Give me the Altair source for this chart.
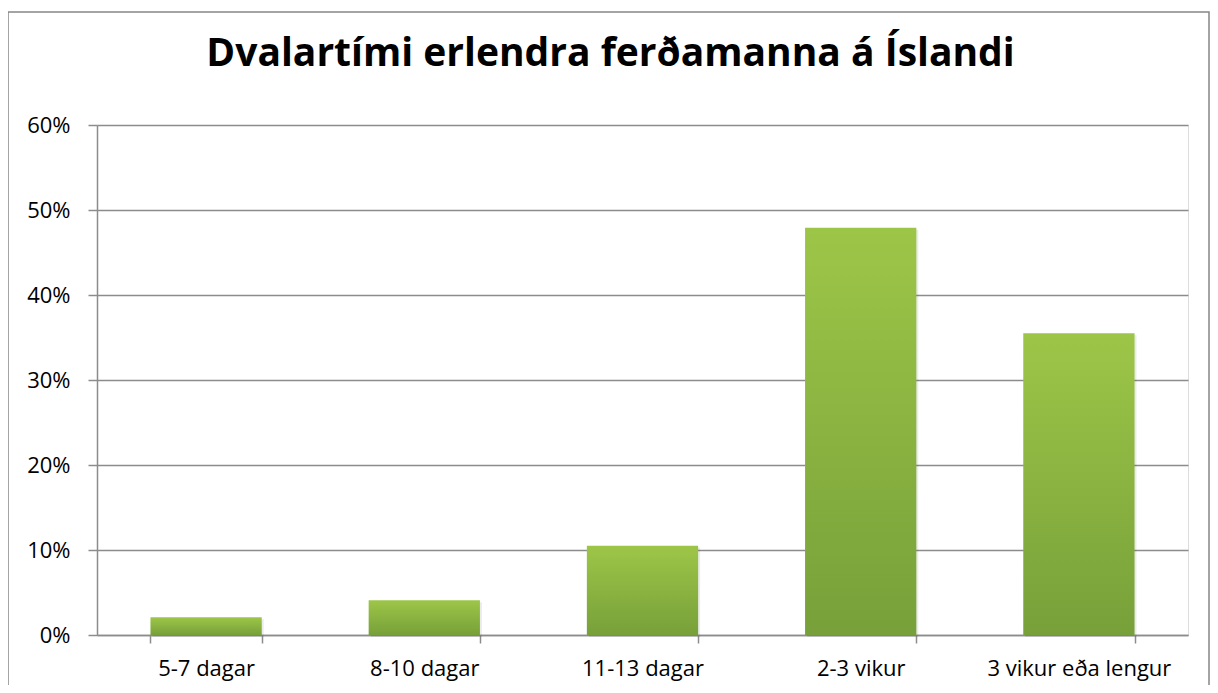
import altair as alt
import pandas as pd

categories = ["5-7 dagar", "8-10 dagar", "11-13 dagar", "2-3 vikur", "3 vikur eða lengur"]
values = [0.021, 0.041, 0.105, 0.479, 0.355]
y_ticks = [0, 0.1, 0.2, 0.3, 0.4, 0.5, 0.6]
title_text = "Dvalartími erlendra ferðamanna á Íslandi"

df = pd.DataFrame({"cat": categories, "val": values})

FONT = "Open Sans"
GRID = "#8c8c8c"

grad = alt.Gradient(
    gradient="linear", x1=0, x2=0, y1=0, y2=1,
    stops=[alt.GradientStop(color="#9dc648", offset=0),
           alt.GradientStop(color="#77a03a", offset=1)],
)

x = alt.X(
    "cat:N", sort=categories,
    scale=alt.Scale(paddingInner=0.49, paddingOuter=0.245),
    axis=alt.Axis(title=None, labelAngle=0, tickBand="extent", tickSize=8,
                  labelPadding=15, labelFontSize=22, labelFont=FONT, labelColor="#000000",
                  labelLimit=400, labelOverlap=False,
                  domainColor=GRID, tickColor=GRID, domainWidth=1.5, tickWidth=1.5, grid=False),
)
y = alt.Y(
    "val:Q",
    scale=alt.Scale(domain=[0, 0.6], nice=False),
    axis=alt.Axis(title=None, values=y_ticks, format=".0%", tickSize=9, labelPadding=18,
                  labelFontSize=22, labelFont=FONT, labelColor="#000000",
                  domainColor=GRID, tickColor=GRID, gridColor=GRID, domainWidth=1.5,
                  tickWidth=1.5, gridWidth=1.5),
)

shadow = alt.Chart(df).mark_bar(color="#000000", opacity=0.08, xOffset=2, yOffset=2).encode(x=x, y=y)
bars = alt.Chart(df).mark_bar(color=grad).encode(x=x, y=y)

frame = alt.Chart(pd.DataFrame({"a": [0]})).mark_rect(
    fillOpacity=0, stroke="#868686", strokeWidth=1.5
).encode(x=alt.value(-89), x2=alt.value(1112), y=alt.value(-113), y2=alt.value(620))

chart = alt.layer(frame, shadow, bars).properties(
    width=1091, height=510,
    title=alt.TitleParams(title_text, font=FONT, fontSize=39, fontWeight="bold",
                          color="#000000", anchor="middle", frame="group", dx=-32,
                          baseline="alphabetic", offset=-94),
    autosize=alt.AutoSizeParams(type="none"),
    padding={"left": 89, "top": 117, "right": 22, "bottom": 50},
).configure_view(stroke=None).configure(background="white")

chart.save("out.html", embed_options={"renderer": "svg", "actions": False})
